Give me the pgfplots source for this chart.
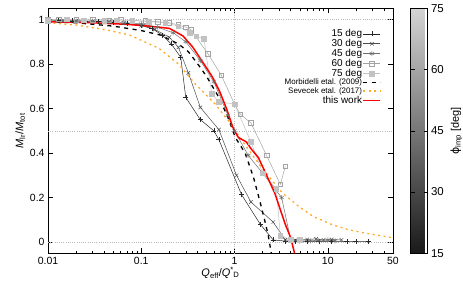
\documentclass[border=0pt]{standalone}
\usepackage{pgfplots}
\pgfplotsset{compat=1.18}
\usepackage{fontspec}
\setmainfont{Liberation Sans}
\newfontfamily\dejavu{DejaVu Sans}
\definecolor{c15}{gray}{0.15}
\definecolor{c30}{gray}{0.30}
\definecolor{c45}{gray}{0.43}
\definecolor{c60}{gray}{0.64}
\definecolor{c75}{gray}{0.76}
\definecolor{sev}{RGB}{255,170,40}
\begin{document}
\begin{tikzpicture}
\begin{axis}[name=main, xmode=log, scale only axis, width=345bp, height=245bp,
  xmin=0.01, xmax=50, ymin=-0.05, ymax=1.05,
  xtick={0.01,0.1,1,10,50}, xticklabels={0.01,0.1,1,10,50},
  minor xtick={0.02,0.03,0.04,0.05,0.06,0.07,0.08,0.09,0.2,0.3,0.4,0.5,0.6,0.7,0.8,0.9,2,3,4,5,6,7,8,9,20,30,40},
  ytick={0,0.2,0.4,0.6,0.8,1}, yticklabels={0,0.2,0.4,0.6,0.8,1},
  tick align=inside, major tick length=5bp, minor tick length=2.5bp,
  tick style={black, line width=0.4pt}, axis line style={line width=0.6pt},
  ticklabel style={font=\fontsize{10.5}{12}\selectfont},
  xlabel={\textit{Q}\textsubscript{eff}/\textit{Q}\textsuperscript{*}\kern-0.5bp\textsubscript{D}},
  ylabel={\textit{M}\textsubscript{lr}/\textit{M}\textsubscript{tot}},
  label style={font=\fontsize{11}{12}\selectfont},
  xlabel style={yshift=4bp}, ylabel style={yshift=-2bp},
  legend plot pos=right, legend cell align=right,
  legend style={draw=none, fill=none, at={(rel axis cs:0.975,0.925)}, anchor=north east,
    font=\fontsize{10}{11}\selectfont, nodes={inner sep=0.6bp}, row sep=0pt},
  colormap={bw}{gray(0cm)=(0.1); gray(1cm)=(0.83)},
  colorbar, point meta min=15, point meta max=75,
  colorbar style={scale only axis, width=17bp, height=245bp,
    at={(parent axis.north east)}, anchor=north west, xshift=9bp,
    ytick={15,30,45,60,75}, yticklabels={15,30,45,60,75},
    tick align=inside, major tick length=4bp, ytick pos=both, yticklabel pos=right,
    ticklabel style={font=\fontsize{11.5}{13}\selectfont},
    ylabel={{\dejavu ϕ}\textsubscript{imp} [deg]},
    ylabel style={font=\fontsize{11}{12}\selectfont},
    axis line style={line width=0.6pt}},
]
\draw[gray!55, line width=0.4pt, dash pattern=on 0.7bp off 1.5bp] (axis cs:1,-0.05) -- (axis cs:1,1.05);
\draw[gray!55, line width=0.4pt, dash pattern=on 0.7bp off 1.5bp] (axis cs:0.01,0) -- (axis cs:50,0);
\draw[gray!55, line width=0.4pt, dash pattern=on 0.7bp off 1.5bp] (axis cs:0.01,0.5) -- (axis cs:50,0.5);
\draw[gray!55, line width=0.4pt, dash pattern=on 0.7bp off 1.5bp] (axis cs:0.01,1) -- (axis cs:50,1);

\addplot[c15, line width=0.5pt, mark=+, mark size=2.5bp] coordinates {
(0.01,0.995) (0.013,0.995) (0.018,0.994) (0.025,0.993) (0.035,0.99) (0.05,0.988) (0.07,0.982) (0.1,0.975) (0.13,0.96) (0.167,0.93) (0.21,0.89) (0.265,0.83) (0.3,0.65) (0.43,0.55) (0.6,0.5) (0.68,0.46) (1.19,0.213) (1.89,0.08) (2.6,0.01) (3.5,0.005) (4.5,0.003) (6,0.004) (8,0.002) (11,0.003) (16,0.002) (20,0.003) (27,0.002)};
\addlegendentry{15 deg}
\addplot[c30, line width=0.5pt, mark=x, mark size=2.5bp] coordinates {
(0.01,0.995) (0.014,0.994) (0.02,0.993) (0.03,0.99) (0.045,0.988) (0.065,0.983) (0.1,0.972) (0.14,0.955) (0.2,0.92) (0.25,0.875) (0.32,0.76) (0.43,0.605) (0.68,0.505) (1.05,0.30) (1.5,0.18) (2.6,0.09) (3.5,0.01) (4.5,0.008) (6,0.012) (7.5,0.015) (9,0.01) (11,0.012) (14,0.01)};
\addlegendentry{30 deg}
\addplot[c45, line width=0.5pt, mark=asterisk, mark size=2.5bp] coordinates {
(0.01,0.995) (0.015,0.995) (0.02,0.994) (0.03,0.992) (0.045,0.99) (0.065,0.986) (0.1,0.98) (0.15,0.965) (0.22,0.94) (0.3,0.9) (0.43,0.815) (0.6,0.72) (0.85,0.57) (1.0,0.5) (1.4,0.39) (2.0,0.31) (3.2,0.2) (4.0,0.01) (5,0.005) (6.5,0.006) (8,0.008) (10,0.01) (12,0.006)};
\addlegendentry{45 deg}
\addplot[c60, line width=0.5pt, mark=square, mark size=2.3bp] coordinates {
(0.01,1.0) (0.013,1.0) (0.02,0.998) (0.03,0.998) (0.045,0.997) (0.06,0.998) (0.08,0.995) (0.11,0.993) (0.15,0.99) (0.2,0.985) (0.25,0.975) (0.3,0.965) (0.34,0.955) (0.52,0.845) (0.72,0.75) (1.0,0.62) (1.15,0.575) (1.5,0.535) (2.2,0.39) (3.1,0.26) (3.5,0.34)};
\addlegendentry{60 deg}
\addplot[c75, line width=0.5pt, mark=square*, mark size=2.3bp] coordinates {
(0.01,0.995) (0.016,1.0) (0.024,0.997) (0.04,0.995) (0.055,0.997) (0.08,0.995) (0.12,0.99) (0.18,0.985) (0.25,0.97) (0.33,0.94) (0.39,0.925) (0.47,0.913) (0.57,0.665) (0.68,0.63) (1.0,0.62) (1.5,0.45) (2.0,0.31) (2.8,0.24) (3.1,0.03) (4,0.01) (5,0.01)};
\addlegendentry{75 deg}
\addplot[black, line width=1.3bp, dash pattern=on 4bp off 4.5bp] coordinates {
(0.01,0.99) (0.02,0.985) (0.05,0.97) (0.1,0.95) (0.16,0.93) (0.25,0.89) (0.32,0.855) (0.42,0.79) (0.5,0.745) (0.68,0.65) (0.85,0.56) (1.02,0.47) (1.3,0.40) (1.6,0.29) (1.88,0.18) (2.1,0.1) (2.3,0.03) (2.48,-0.05)};
\addlegendentry{\fontsize{8}{9}\selectfont Morbidelli etal. (2009)}
\addplot[sev, line width=1.3bp, dash pattern=on 2bp off 3.5bp] coordinates {
(0.01,0.985) (0.02,0.975) (0.04,0.955) (0.075,0.93) (0.155,0.87) (0.25,0.80) (0.38,0.71) (0.62,0.62) (0.86,0.545) (1.14,0.47) (1.5,0.4) (2.0,0.33) (3.26,0.22) (4.9,0.16) (7,0.115) (11.2,0.078) (17,0.055) (25.7,0.04) (50,0.02)};
\addlegendentry{\fontsize{8}{9}\selectfont Sevecek etal. (2017)}
\addplot[red, line width=1.5bp] coordinates {
(0.01,0.99) (0.03,0.985) (0.07,0.978) (0.12,0.97) (0.2,0.96) (0.28,0.926) (0.356,0.876) (0.455,0.809) (0.58,0.741) (0.69,0.678) (0.82,0.60) (0.95,0.52) (1.0,0.5) (1.1,0.47) (1.34,0.45) (1.5,0.42) (1.8,0.38) (2.1,0.32) (2.7,0.22) (3.5,0.08) (4.0,0.02) (4.4,-0.05)};
\addlegendentry{this work}
\end{axis}
\pgfresetboundingbox
\path[use as bounding box] ([shift={(-48bp,-38bp)}]main.south west) rectangle ([shift={(70bp,8.3bp)}]main.north east);
\end{tikzpicture}
\end{document}
